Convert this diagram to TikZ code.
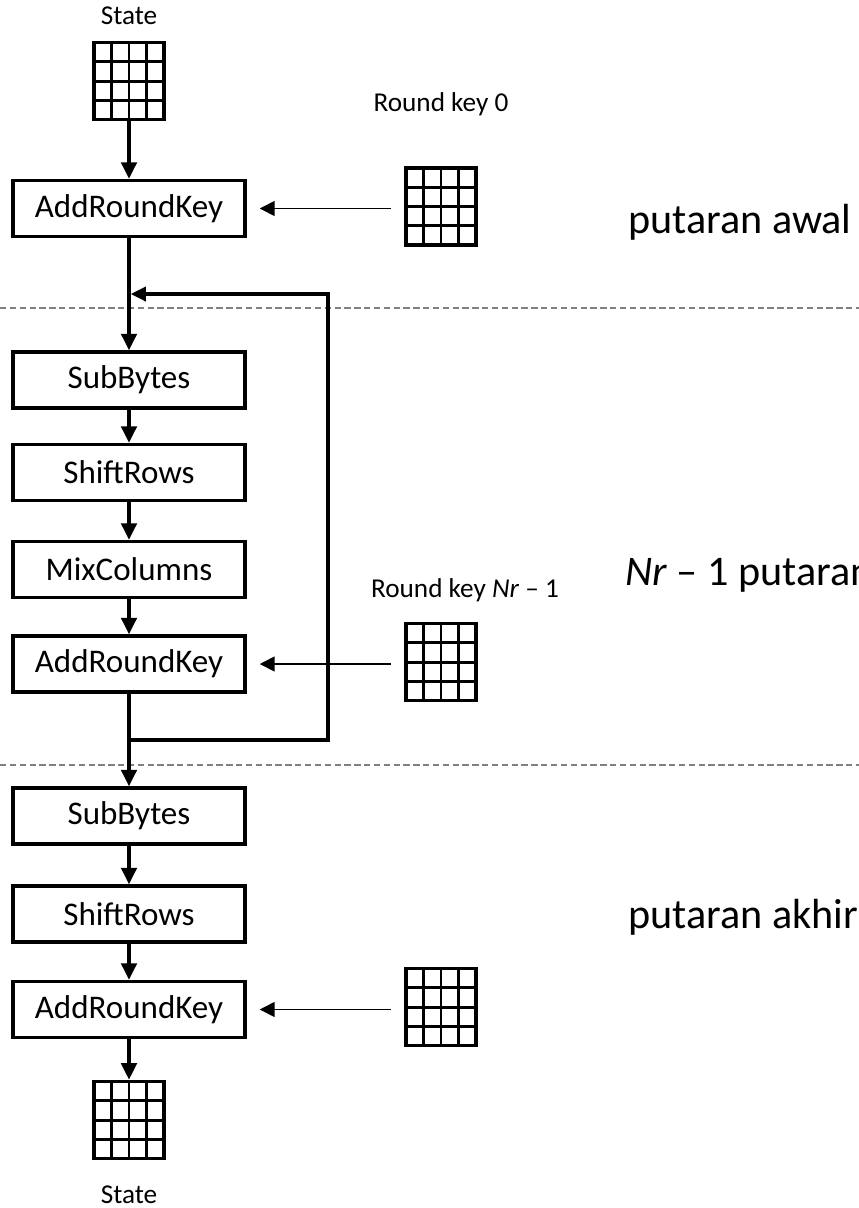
\documentclass[tikz,border=0pt]{standalone}
\usepackage{fontspec}
\setmainfont{Carlito}
\usetikzlibrary{positioning}
\usetikzlibrary{arrows.meta}
\usetikzlibrary{calc}

\tikzset{
  stage/.style={draw, line width=2pt, minimum width=4.64cm, minimum height=1.12cm,
    inner sep=0pt, font=\fontsize{18.8}{22}\selectfont},
  block/.style={draw, line width=2.1pt, minimum width=1.4cm, minimum height=1.54cm, inner sep=0pt,
    path picture={
      \foreach \k in {1,2,3}{
        \draw[line width=1.7pt] ($(path picture bounding box.south west)!\k/4!(path picture bounding box.south east)$)
          -- ($(path picture bounding box.north west)!\k/4!(path picture bounding box.north east)$);
        \draw[line width=1.7pt] ($(path picture bounding box.south west)!\k/4!(path picture bounding box.north west)$)
          -- ($(path picture bounding box.south east)!\k/4!(path picture bounding box.north east)$);
      }}},
  caption/.style={font=\fontsize{15.5}{18}\selectfont},
  phase/.style={anchor=west, inner sep=0pt, font=\fontsize{24}{28}\selectfont},
  flow/.style={line width=2pt, -{Triangle[length=0.33cm,width=0.31cm]}},
  feed/.style={line width=0.9pt, -{Triangle[length=0.3cm,width=0.3cm]},
    shorten <=0.26cm, shorten >=0.26cm},
  loopline/.style={line width=1.9pt, -{Triangle[length=0.3cm,width=0.28cm]}, shorten >=1pt},
  divider/.style={gray, line width=1.2pt, dash pattern=on 3.6pt off 2pt}
}

\begin{document}
\begin{tikzpicture}[x=0.02cm, y=-0.02cm]
\clip[use as bounding box] (0,0) rectangle (859,1208);

\node[caption] (state0) at (129,16) {State};
\node[block] (st0) at (129,81) {};
\node[stage] (ark0) at (129,208.5) {AddRoundKey};
\node[caption] (rk0) at (441,104) {Round key 0};
\node[block] (key0) at (441,206.5) {};
\node[phase] (awal) at (628,222) {putaran awal};

\node[stage] (sb1) at (129,380) {SubBytes};
\node[stage] (sr1) at (129,472.5) {ShiftRows};
\node[stage] (mc1) at (129,569.5) {MixColumns};
\node[stage] (ark1) at (129,664) {AddRoundKey};
\node[caption] (rk1) at (465,590) {Round key \textit{Nr} \textendash{} 1};
\node[block] (key1) at (441,662) {};
\node[phase] (tengah) at (625,575) {\textit{Nr} \textendash{} 1 putaran};

\node[stage] (sb2) at (129,816) {SubBytes};
\node[stage] (sr2) at (129,914) {ShiftRows};
\node[stage] (ark2) at (129,1009.5) {AddRoundKey};
\node[block] (key2) at (441,1007) {};
\node[phase] (akhir) at (628,917) {putaran akhir};
\node[block] (st1) at (129,1120) {};
\node[caption] (state1) at (129,1195) {State};

\coordinate (looptop) at (328,294);
\coordinate (loopbot) at (328,740);

\draw[divider] (0,308) -- (859,308);
\draw[divider] (0,765) -- (859,765);

\draw[flow] (st0) -- (ark0);
\draw[feed] (ark0.east -| key0.west) -- (ark0.east);
\draw[flow] (ark0) -- (sb1);
\draw[flow] (sb1) -- (sr1);
\draw[flow] (sr1) -- (mc1);
\draw[flow] (mc1) -- (ark1);
\draw[feed] (ark1.east -| key1.west) -- (ark1.east);
\draw[loopline] (ark1.south |- loopbot) -- (loopbot) -- (looptop) -- (ark0.south |- looptop);
\draw[flow] (ark1) -- (sb2);
\draw[flow] (sb2) -- (sr2);
\draw[flow] (sr2) -- (ark2);
\draw[feed] (ark2.east -| key2.west) -- (ark2.east);
\draw[flow] (ark2) -- (st1);
\end{tikzpicture}
\end{document}
